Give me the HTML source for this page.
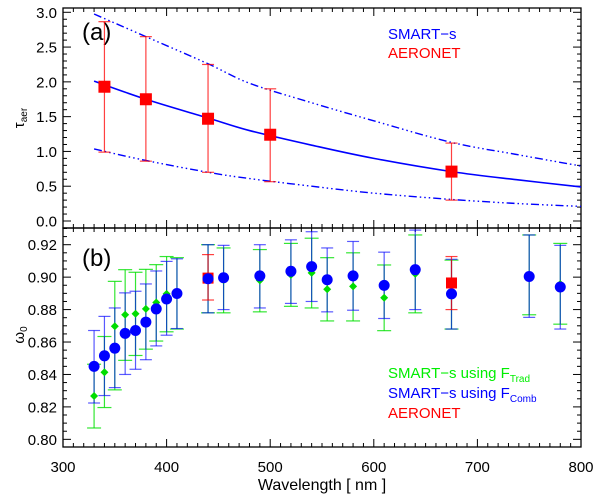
<!DOCTYPE html>
<html><head><meta charset="utf-8"><style>
body{margin:0;background:#fff}
svg{display:block;font-family:"Liberation Sans",sans-serif}
</style></head><body>
<svg id="c" width="600" height="495"></svg>
<script>
// ---- panel (a) data ----
const curveWl=[330,380,440,480,540,600,675,740,800];
const curveMid=[2.01,1.75,1.48,1.30,1.09,0.90,0.71,0.59,0.49];
const curveUp=[2.975,2.65,2.26,1.98,1.70,1.44,1.13,0.95,0.79];
const curveLo=[1.035,0.87,0.70,0.61,0.50,0.40,0.31,0.25,0.21];
const aerTauWl=[340,380,440,500,675];
const aerTau=[1.93,1.75,1.47,1.24,0.71];
const aerTauHi=[2.865,2.65,2.25,1.90,1.12];
const aerTauLo=[0.99,0.86,0.70,0.565,0.30];
// ---- panel (b) data ----
const ssaWl=[330,340,350,360,370,380,390,400,410,440,455,490,520,540,555,580,610,640,675,750,780];
const combVal=[0.845,0.8515,0.8562,0.8653,0.8671,0.8723,0.8804,0.8865,0.8899,0.899,0.8996,0.9008,0.9036,0.9065,0.8984,0.9008,0.8949,0.9046,0.8897,0.9004,0.8939];
const combHi=[0.8671,0.8758,0.881,0.8903,0.8913,0.8958,0.9038,0.9097,0.9113,0.920,0.9196,0.920,0.923,0.928,0.918,0.922,0.9154,0.929,0.911,0.926,0.9196];
const combLo=[0.8224,0.827,0.8319,0.840,0.8432,0.8491,0.8576,0.8642,0.8683,0.878,0.880,0.881,0.8838,0.885,0.8786,0.8796,0.8745,0.880,0.868,0.8752,0.868];
const tradVal=[0.8267,0.8414,0.8697,0.8768,0.8774,0.8804,0.8844,0.8897,0.8899,0.899,0.8982,0.898,0.9014,0.9026,0.8925,0.8943,0.8873,0.902,0.8885,0.9014,0.8958];
const tradHi=[0.8463,0.8634,0.8974,0.9046,0.903,0.9048,0.9077,0.9127,0.912,0.920,0.918,0.917,0.9208,0.924,0.912,0.915,0.9075,0.926,0.9105,0.926,0.9208];
const tradLo=[0.807,0.8196,0.8305,0.8487,0.8517,0.8556,0.8606,0.8663,0.868,0.878,0.878,0.8786,0.882,0.881,0.873,0.873,0.867,0.878,0.868,0.8768,0.871];
const aerSsaWl=[440,675];
const aerSsa=[0.8994,0.8964];
const aerSsaHi=[0.9139,0.9127];
const aerSsaLo=[0.8859,0.880];
const xTicks=[300,400,500,600,700,800];
const yTicksA=[0,0.5,1,1.5,2,2.5,3];
const yTicksB=[0.80,0.82,0.84,0.86,0.88,0.90,0.92];

const S='http://www.w3.org/2000/svg', svg=document.getElementById('c');
const L=63,R=581,TA=8,BA=228,BB=447;
const X=v=>L+(v-300)*(R-L)/500;
const YA=v=>221-v*69.57;
const YB=v=>244.7-(v-0.92)*1622;
function el(t,a,p){const e=document.createElementNS(S,t);for(const k in a)e.setAttribute(k,a[k]);(p||svg).appendChild(e);return e;}
function txt(s,x,y,a,name){const e=el('text',Object.assign({x:x,y:y},a));e.textContent=s;return e;}
function smooth(ws,vs,Y){const p=ws.map((w,i)=>[X(w),Y(vs[i])]);let d='M'+p[0];for(let i=0;i<p.length-1;i++){const a=p[i-1]||p[i],b=p[i],c=p[i+1],e=p[i+2]||c;d+='C'+(b[0]+(c[0]-a[0])/6)+','+(b[1]+(c[1]-a[1])/6)+' '+(c[0]-(e[0]-b[0])/6)+','+(c[1]-(e[1]-b[1])/6)+' '+c;}return d;}

for(const [t,b,n] of [[TA,BA,'panel-a-frame'],[BA,BB,'panel-b-frame']]){
  const f=el('rect',{x:L,y:t,width:R-L,height:b-t,fill:'none',stroke:'#000','stroke-width':1.3});
  
}
const tg=el('g',{stroke:'#000','stroke-width':1});

for(let v=300;v<=800;v+=10){const x=X(v),len=(v%100==0)?8:4;
  for(const [t,b] of [[TA,BA],[BA,BB]]){el('line',{x1:x,x2:x,y1:b,y2:b-len},tg);el('line',{x1:x,x2:x,y1:t,y2:t+len},tg);}}
for(let i=-1;i<=30;i++){const v=i/10,y=YA(v);if(y<TA||y>BA)continue;const len=(i%5==0)?8:4;
  el('line',{x1:L,x2:L+len,y1:y,y2:y},tg);el('line',{x1:R,x2:R-len,y1:y,y2:y},tg);}
for(let i=159;i<=186;i++){const v=i*0.005,y=YB(v);if(y<BA||y>BB)continue;const len=(i%4==0)?8:4;
  el('line',{x1:L,x2:L+len,y1:y,y2:y},tg);el('line',{x1:R,x2:R-len,y1:y,y2:y},tg);}
xTicks.forEach(v=>txt(String(v),X(v),472,{'font-size':15,'text-anchor':'middle'},'x-tick-label'));
yTicksA.forEach(v=>txt(v.toFixed(1),57,YA(v)+5.5,{'font-size':15,'text-anchor':'end'},'y-tick-label-a'));
yTicksB.forEach(v=>txt(v.toFixed(2),57,YB(v)+5.5,{'font-size':15,'text-anchor':'end'},'y-tick-label-b'));
txt('Wavelength [ nm ]',322,490,{'font-size':16,'text-anchor':'middle'},'x-axis-title');
const ya=txt('',24,118,{'font-size':15,transform:'rotate(-90 24 118)','text-anchor':'middle'},'y-axis-title-a');
ya.innerHTML='τ<tspan font-size="10" dy="3">aer</tspan>';
const yb=txt('',24,335,{'font-size':15,transform:'rotate(-90 24 335)','text-anchor':'middle'},'y-axis-title-b');
yb.innerHTML='ω<tspan font-size="10" dy="3">0</tspan>';
txt('(a)',82,40,{'font-size':24},'panel-a-label');
txt('(b)',82,266,{'font-size':24},'panel-b-label');

const cm=el('path',{d:smooth(curveWl,curveMid,YA),fill:'none',stroke:'#0000ff','stroke-width':1.6});

for(const [arr,n] of [[curveUp,'smart-s-tau-upper'],[curveLo,'smart-s-tau-lower']]){
  const c=el('path',{d:smooth(curveWl,arr,YA),fill:'none',stroke:'#0000ff','stroke-width':1.4,'stroke-dasharray':'8 3 1.5 3 1.5 3 1.5 3'});
  
}
function errbar(x,y1,y2,col,w,op,name){const g=el('g',{stroke:col,'stroke-width':1.2,'stroke-opacity':op});
  
  el('line',{x1:x,x2:x,y1:y1,y2:y2},g);el('line',{x1:x-w,x2:x+w,y1:y1,y2:y1},g);el('line',{x1:x-w,x2:x+w,y1:y2,y2:y2},g);}
aerTauWl.forEach((w,i)=>{const x=X(w);errbar(x,YA(aerTauHi[i]),YA(aerTauLo[i]),'#ff0000',6,0.75,'aeronet-tau-errorbar');
  const r=el('rect',{x:x-6,y:YA(aerTau[i])-6,width:12,height:12,fill:'#ff0000'});
  });

ssaWl.forEach((w,i)=>{const x=X(w);errbar(x,YB(tradHi[i]),YB(tradLo[i]),'#00e000',7,0.8,'trad-errorbar');});
ssaWl.forEach((w,i)=>{const x=X(w);errbar(x,YB(combHi[i]),YB(combLo[i]),'#0000ff',6,0.65,'comb-errorbar');});
aerSsaWl.forEach((w,i)=>errbar(X(w),YB(aerSsaHi[i]),YB(aerSsaLo[i]),'#ff0000',6,0.75,'aeronet-ssa-errorbar'));
ssaWl.forEach((w,i)=>{const x=X(w),y=YB(tradVal[i]);
  const d=el('path',{d:`M${x},${y-4}L${x+4},${y}L${x},${y+4}L${x-4},${y}Z`,fill:'#00dd00'});
  });
aerSsaWl.forEach((w,i)=>{const r=el('rect',{x:X(w)-5.5,y:YB(aerSsa[i])-5.5,width:11,height:11,fill:'#ff0000'});
  });
ssaWl.forEach((w,i)=>{const c=el('circle',{cx:X(w),cy:YB(combVal[i]),r:5.5,fill:'#0000ff'});
  });

txt('SMART−s',388,39,{'font-size':15,fill:'#0000ff'},'legend-smart-s');
txt('AERONET',388,58,{'font-size':15,fill:'#ff0000'},'legend-aeronet-a');
const l1=txt('',388,378,{'font-size':15,fill:'#00ee00'},'legend-trad');l1.innerHTML='SMART−s using F<tspan font-size="10" dy="4">Trad</tspan>';
const l2=txt('',388,398,{'font-size':15,fill:'#0000ff'},'legend-comb');l2.innerHTML='SMART−s using F<tspan font-size="10" dy="4">Comb</tspan>';
txt('AERONET',388,418,{'font-size':15,fill:'#ff0000'},'legend-aeronet-b');
</script>
</body></html>
